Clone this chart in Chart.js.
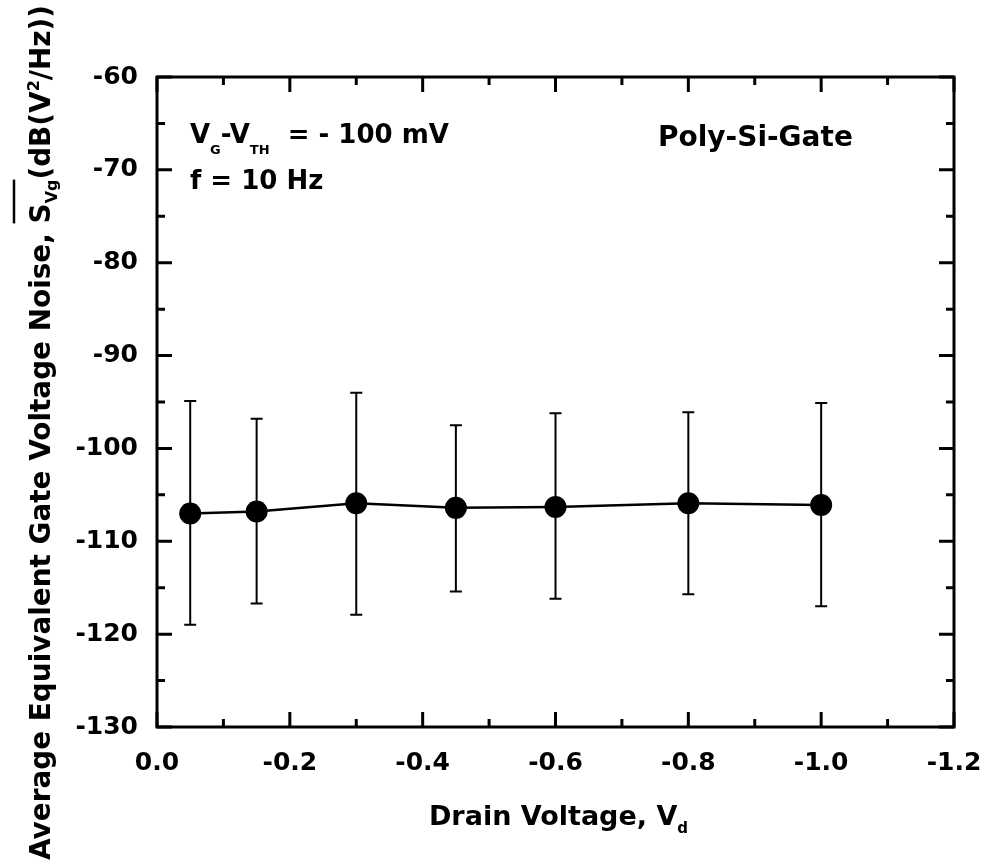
<!DOCTYPE html>
<html>
<head>
<meta charset="utf-8">
<script src="https://cdn.jsdelivr.net/npm/chart.js@4"></script>
<style>
  html, body { margin: 0; padding: 0; background: #fff; }
  canvas { display: block; }
</style>
</head>
<body>
<canvas id="noiseChart" width="986" height="864"></canvas>
<script>
// values
const drainV = [-0.05, -0.15, -0.30, -0.45, -0.60, -0.80, -1.00];
const noiseAvg = [-107.0, -106.8, -105.9, -106.4, -106.3, -105.9, -106.1];
const noiseHigh = [-94.9, -96.8, -94.0, -97.5, -96.2, -96.1, -95.1];
const noiseLow = [-119.0, -116.7, -117.9, -115.4, -116.2, -115.7, -117.0];

const xTicks = [0, -0.2, -0.4, -0.6, -0.8, -1.0, -1.2];
const xTickLabels = ['0.0', '-0.2', '-0.4', '-0.6', '-0.8', '-1.0', '-1.2'];
const xMinor = [-0.1, -0.3, -0.5, -0.7, -0.9, -1.1];
const yTicks = [-130, -120, -110, -100, -90, -80, -70, -60];
const yTickLabels = ['-130', '-120', '-110', '-100', '-90', '-80', '-70', '-60'];
const yMinor = [-125, -115, -105, -95, -85, -75, -65];

const FONT = "'DejaVu Sans', sans-serif";

function richWidth(ctx, parts) {
  let w = 0;
  parts.forEach(p => {
    ctx.font = 'bold ' + p.size + 'px ' + FONT;
    w += ctx.measureText(p.t).width;
  });
  return w;
}

// draws text runs with sub/superscripts, optional overline
function drawRich(ctx, parts, x, y, overY) {
  let ox0 = null, ox1 = null;
  parts.forEach(p => {
    ctx.font = 'bold ' + p.size + 'px ' + FONT;
    ctx.fillText(p.t, x, y + (p.dy || 0));
    const w = ctx.measureText(p.t).width;
    if (p.over) {
      if (ox0 === null) ox0 = x;
      ox1 = x + w;
    }
    x += w;
  });
  if (ox0 !== null) {
    ctx.beginPath();
    ctx.moveTo(ox0, y + overY);
    ctx.lineTo(ox1, y + overY);
    ctx.stroke();
  }
}

const errorBars = {
  id: 'errorBars',
  beforeDatasetsDraw(chart) {
    const { ctx, scales: { x, y } } = chart;
    ctx.save();
    ctx.strokeStyle = '#000';
    ctx.lineWidth = 2;
    drainV.forEach((v, i) => {
      const px = x.getPixelForValue(v);
      const hi = y.getPixelForValue(noiseHigh[i]);
      const lo = y.getPixelForValue(noiseLow[i]);
      ctx.beginPath();
      ctx.moveTo(px, hi); ctx.lineTo(px, lo);
      ctx.moveTo(px - 6, hi); ctx.lineTo(px + 6, hi);
      ctx.moveTo(px - 6, lo); ctx.lineTo(px + 6, lo);
      ctx.stroke();
    });
    ctx.restore();
  }
};

const frameAndText = {
  id: 'frameAndText',
  afterDraw(chart) {
    const { ctx, chartArea: a, scales: { x, y } } = chart;
    ctx.save();
    ctx.strokeStyle = '#000';
    ctx.fillStyle = '#000';
    ctx.lineWidth = 3;
    ctx.strokeRect(a.left, a.top, a.right - a.left, a.bottom - a.top);

    // inward ticks on all four sides
    const xt = (vals, len) => vals.forEach(v => {
      const px = x.getPixelForValue(v);
      ctx.beginPath();
      ctx.moveTo(px, a.bottom); ctx.lineTo(px, a.bottom - len);
      ctx.moveTo(px, a.top); ctx.lineTo(px, a.top + len);
      ctx.stroke();
    });
    const yt = (vals, len) => vals.forEach(v => {
      const py = y.getPixelForValue(v);
      ctx.beginPath();
      ctx.moveTo(a.left, py); ctx.lineTo(a.left + len, py);
      ctx.moveTo(a.right, py); ctx.lineTo(a.right - len, py);
      ctx.stroke();
    });
    xt(xTicks, 15); xt(xMinor, 8);
    yt(yTicks, 15); yt(yMinor, 8);

    ctx.textBaseline = 'alphabetic';
    ctx.textAlign = 'left';

    // annotations
    drawRich(ctx, [
      { t: 'V', size: 26 },
      { t: 'G', size: 13, dy: 11 },
      { t: '-V', size: 26 },
      { t: 'TH', size: 13, dy: 11 },
      { t: '  = - 100 mV', size: 26 }
    ], a.left + 33, a.top + 66);
    drawRich(ctx, [{ t: 'f = 10 Hz', size: 26 }], a.left + 33, a.top + 112);
    drawRich(ctx, [{ t: 'Poly-Si-Gate', size: 28 }], a.left + 501, a.top + 69);

    // x axis title
    const xParts = [
      { t: 'Drain Voltage, V', size: 27 },
      { t: 'd', size: 15, dy: 8 }
    ];
    const xw = richWidth(ctx, xParts);
    drawRich(ctx, xParts, (a.left + a.right) / 2 + 3 - xw / 2, 825);

    // y axis title, rotated
    const yParts = [
      { t: 'Average Equivalent Gate Voltage Noise, ', size: 28 },
      { t: 'S', size: 28, over: true },
      { t: 'Vg', size: 16, dy: 7, over: true },
      { t: '(dB(V', size: 28 },
      { t: '2', size: 16, dy: -11 },
      { t: '/Hz))', size: 28 }
    ];
    const yw = richWidth(ctx, yParts);
    ctx.translate(50, 860);
    ctx.rotate(-Math.PI / 2);
    ctx.scale(855 / yw, 1);
    ctx.lineWidth = 2.5;
    drawRich(ctx, yParts, 0, 0, -36);
    ctx.restore();
  }
};

const tickFont = { family: FONT, size: 25, weight: 'bold' };

new Chart(document.getElementById('noiseChart'), {
  type: 'scatter',
  data: {
    datasets: [{
      data: drainV.map((v, i) => ({ x: v, y: noiseAvg[i] })),
      showLine: true,
      borderColor: '#000',
      borderWidth: 2.5,
      backgroundColor: '#000',
      pointRadius: 11,
      pointBorderWidth: 0,
      pointBackgroundColor: '#000'
    }]
  },
  options: {
    responsive: false,
    animation: false,
    layout: { padding: { top: 77, right: 32, left: 0, bottom: 0 } },
    plugins: { legend: { display: false }, tooltip: { enabled: false } },
    scales: {
      x: {
        type: 'linear',
        min: -1.2,
        max: 0,
        reverse: true,
        grid: { display: false, drawTicks: false },
        border: { display: false },
        afterBuildTicks: s => { s.ticks = xTicks.map(v => ({ value: v })); },
        afterFit: s => { s.height = 137; s.paddingLeft = 0; s.paddingRight = 0; },
        ticks: {
          font: tickFont,
          color: '#000',
          padding: 21,
          autoSkip: false,
          maxRotation: 0,
          callback: (v, i) => xTickLabels[i]
        }
      },
      y: {
        min: -130,
        max: -60,
        grid: { display: false, drawTicks: false },
        border: { display: false },
        afterBuildTicks: s => { s.ticks = yTicks.map(v => ({ value: v })); },
        afterFit: s => { s.width = 157; s.paddingTop = 0; s.paddingBottom = 0; },
        ticks: {
          font: tickFont,
          color: '#000',
          padding: 19,
          autoSkip: false,
          callback: (v, i) => yTickLabels[i]
        }
      }
    }
  },
  plugins: [errorBars, frameAndText]
});
</script>
</body>
</html>
